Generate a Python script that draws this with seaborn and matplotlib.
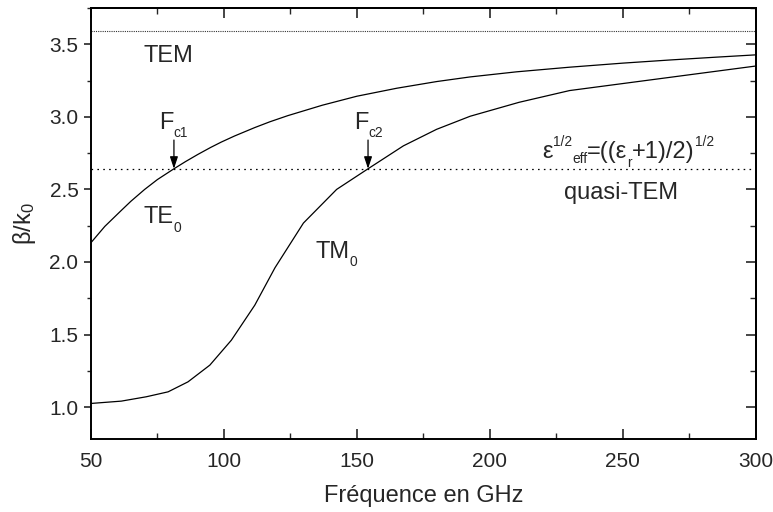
import matplotlib
matplotlib.use("Agg")
import matplotlib.pyplot as plt
import matplotlib.transforms as mtransforms
from matplotlib.ticker import MultipleLocator, NullFormatter
import pandas as pd
import seaborn as sns

# Dispersion of the two guided modes (normalised propagation constant vs frequency)
te0_freq = [50, 55.2, 61.4, 65, 70.2, 75, 81.2, 85.5, 90.2, 95, 99, 104, 111.6,
            117.3, 124, 137, 150, 165, 180, 192.6, 210, 230, 250, 268, 285, 300]
te0_beta = [2.133, 2.245, 2.355, 2.418, 2.50, 2.568, 2.642, 2.691, 2.741, 2.789,
            2.826, 2.868, 2.926, 2.966, 3.008, 3.08, 3.142, 3.197, 3.243, 3.275,
            3.31, 3.342, 3.37, 3.392, 3.411, 3.427]

tm0_freq = [50, 61.4, 70.8, 79, 86.5, 94.7, 102.8, 111.6, 119.2, 129.9, 142.4,
            154.2, 167.5, 180, 192.6, 211, 230, 300]
tm0_beta = [1.025, 1.041, 1.071, 1.105, 1.174, 1.289, 1.461, 1.702, 1.96, 2.268,
            2.50, 2.642, 2.80, 2.914, 3.004, 3.10, 3.181, 3.35]

# Reference levels: TEM (sqrt(eps_r)) and quasi-TEM (sqrt((eps_r+1)/2))
tem_level = 3.59
quasi_tem_level = 2.642

# Cut-off frequencies marked with arrows
fc1 = 81.2
fc2 = 154.2

x_ticks = [50, 100, 150, 200, 250, 300]
y_ticks = [1.0, 1.5, 2.0, 2.5, 3.0, 3.5]

sns.set_style("ticks")
plt.rcParams["font.family"] = ["Liberation Sans", "DejaVu Sans"]
plt.rcParams["mathtext.fontset"] = "custom"
plt.rcParams["mathtext.rm"] = "Liberation Sans"
plt.rcParams["mathtext.it"] = "Liberation Sans:italic"
plt.rcParams["mathtext.bf"] = "Liberation Sans:bold"

fig = plt.figure(figsize=(7.73, 5.12), dpi=100)
ax = fig.add_axes([0.1177, 0.142, 0.8599, 0.8424])

df = pd.concat([
    pd.DataFrame({"freq": te0_freq, "beta": te0_beta, "mode": "TE0"}),
    pd.DataFrame({"freq": tm0_freq, "beta": tm0_beta, "mode": "TM0"}),
])
sns.lineplot(data=df, x="freq", y="beta", units="mode", estimator=None,
             sort=False, color="black", lw=0.9, ax=ax)

ax.axhline(tem_level, color="#333333", lw=0.8, ls=(0, (1, 1)))
ax.axhline(quasi_tem_level, color="black", lw=0.9, ls=(0, (1.3, 3.4)))

ax.set_xlim(50, 300)
ax.set_ylim(0.778, 3.75)

# Cut-off arrows
for fc in (fc1, fc2):
    ax.annotate("", xy=(fc, quasi_tem_level), xytext=(fc, 2.84),
                arrowprops=dict(arrowstyle="-|>,head_length=0.6,head_width=0.2",
                                color="black", lw=0.9, mutation_scale=12,
                                shrinkA=0, shrinkB=0))

renderer = fig.canvas.get_renderer()


def rich_text(x, y, parts, size):
    """Write a label made of normal / subscript / superscript pieces."""
    dx = 0.0
    for s, kind in parts:
        if kind == "n":
            fsz, dy = size, 0.0
        elif kind == "sub":
            fsz, dy = size * 0.58, -size * 0.36
        elif kind == "sub_hi":
            fsz, dy = size * 0.58, -size * 0.18
        else:
            fsz, dy = size * 0.58, size * 0.52
        tr = mtransforms.offset_copy(ax.transData, fig=fig, x=dx, y=dy, units="points")
        t = ax.text(x, y, s, fontsize=fsz, transform=tr, ha="left", va="baseline")
        dx += t.get_window_extent(renderer).width * 72.0 / fig.dpi


fs = 17
rich_text(69.6, 3.378, [("TEM", "n")], fs)
rich_text(75.6, 2.919, [("F", "n"), ("c1", "sub")], fs)
rich_text(148.9, 2.919, [("F", "n"), ("c2", "sub")], fs)
rich_text(69.6, 2.266, [("TE", "n"), ("0", "sub")], fs)
rich_text(134.3, 2.03, [("TM", "n"), ("0", "sub")], fs)
rich_text(228, 2.431, [("quasi-TEM", "n")], fs)
rich_text(219.8, 2.713, [("ε", "n"), ("1/2", "sup"), ("eff", "sub_hi"),
                         ("=((ε", "n"), ("r", "sub"), ("+1)/2)", "n"),
                         ("1/2", "sup")], fs)

# Ticks: bottom inward, left outward
ax.set_xticks(x_ticks)
ax.set_yticks(y_ticks)
ax.set_yticklabels([f"{v:.1f}" for v in y_ticks])
ax.xaxis.set_minor_locator(MultipleLocator(25))
ax.yaxis.set_minor_locator(MultipleLocator(0.25))
ax.tick_params(axis="x", which="major", direction="in", length=7, width=1.2,
               labelsize=15, pad=9, top=False)
ax.tick_params(axis="x", which="minor", direction="in", length=4, width=1.0, top=False)
ax.tick_params(axis="y", which="major", direction="out", length=5, width=1.2,
               labelsize=15, pad=4, right=False)
ax.tick_params(axis="y", which="minor", direction="out", length=3, width=1.0, right=False)

# Mirror axes with inward ticks on top and right
top = ax.secondary_xaxis("top")
top.set_xticks(x_ticks)
top.xaxis.set_minor_locator(MultipleLocator(25))
top.xaxis.set_major_formatter(NullFormatter())
top.tick_params(which="major", direction="in", length=7, width=1.2)
top.tick_params(which="minor", direction="in", length=4, width=1.0)
right = ax.secondary_yaxis("right")
right.set_yticks(y_ticks)
right.yaxis.set_minor_locator(MultipleLocator(0.25))
right.yaxis.set_major_formatter(NullFormatter())
right.tick_params(which="major", direction="in", length=7, width=1.2)
right.tick_params(which="minor", direction="in", length=4, width=1.0)

for a in (ax, top, right):
    for sp in a.spines.values():
        sp.set_linewidth(1.4)
        sp.set_color("black")

ax.set_xlabel("Fréquence en GHz", fontsize=17, labelpad=10)
ax.set_ylabel(r"$\mathregular{β/k_0}$", fontsize=17, labelpad=8)

fig.savefig("out.png", dpi=100)
